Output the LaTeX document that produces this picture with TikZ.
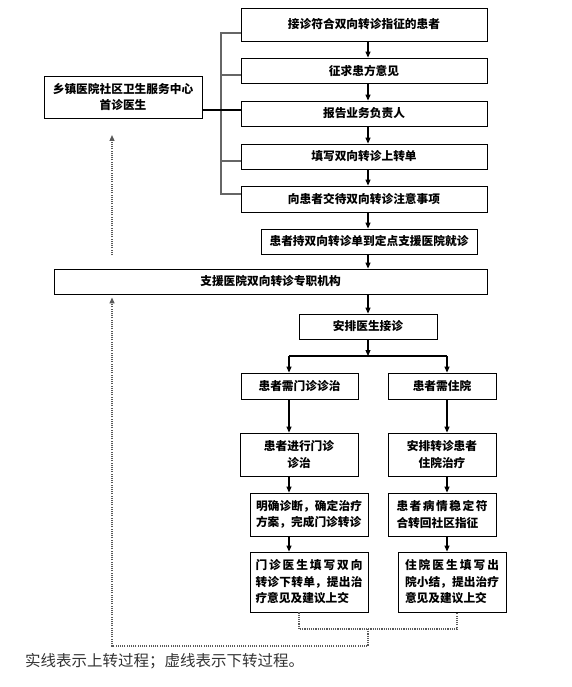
\documentclass[tikz,border=0pt]{standalone}
\usepackage{fontspec}
\newfontfamily\cjk{Noto Sans CJK SC}
\usetikzlibrary{arrows.meta}
\XeTeXlinebreaklocale "zh"
\XeTeXlinebreakskip=0pt plus 4pt

\begin{document}
\begin{tikzpicture}[
    x=1pt, y=-1pt,
    every node/.style={font=\cjk\bfseries\fontsize{11.7}{16.5}\selectfont},
    box/.style={draw, line width=0.8pt, inner sep=0pt},
    arrow/.style={-{Triangle[length=6pt, width=5pt]}, line width=1.1pt},
    link/.style={line width=1.1pt},
    bracket/.style={line width=1.1pt, gray!80!black},
    dotline/.style={line width=1.2pt, black!65, dash pattern=on 1.1pt off 1.1pt},
    dotarrow/.style={dotline, -{Triangle[length=6pt, width=5pt]}}
]
\useasboundingbox (0,0) rectangle (571,687);

% === UPWARD REFERRAL (community side) ===

% first-visit doctor at left
\node[box, minimum width=158pt, minimum height=42pt, align=center] (doctor) at (123,97) {乡镇医院社区卫生服务中心\\首诊医生};

% steps in a column
\node[box, minimum width=246pt, minimum height=33pt] (accept) at (364,24.5) {接诊符合双向转诊指征的患者};
\node[box, minimum width=246pt, minimum height=25pt] (consent) at (364,70.5) {征求患方意见};
\node[box, minimum width=246pt, minimum height=25pt] (report) at (364,113.5) {报告业务负责人};
\node[box, minimum width=246pt, minimum height=25pt] (fillup) at (364,156.5) {填写双向转诊上转单};
\node[box, minimum width=246pt, minimum height=26pt] (notice) at (364,199) {向患者交待双向转诊注意事项};
\node[box, minimum width=216pt, minimum height=25pt] (visit) at (369,241.5) {患者持双向转诊单到定点支援医院就诊};

% === SUPPORTING HOSPITAL ===
\node[box, minimum width=433pt, minimum height=25pt] (office) at (270.5,281.5) {支援医院双向转诊专职机构};
\node[box, minimum width=138pt, minimum height=25pt] (assign) at (368,326.5) {安排医生接诊};

% outpatient branch
\node[box, minimum width=117pt, minimum height=26pt] (outpat) at (299.5,386) {患者需门诊诊治};
\node[box, minimum width=118pt, minimum height=43pt, align=center] (outtreat) at (299,454.5) {患者进行门诊\\诊治};
\node[box, minimum width=118pt, minimum height=43pt, text width=106pt, align=justify] (outdiag) at (309,514.5) {明确诊断，确定治疗\linebreak 方案，完成门诊转诊};
\node[box, minimum width=118pt, minimum height=60pt, text width=107pt, align=justify] (outform) at (309,582) {门诊医生填写双向\linebreak 转诊下转单，提出治\linebreak 疗意见及建议上交};

% inpatient branch
\node[box, minimum width=108pt, minimum height=26pt] (inpat) at (442,386) {患者需住院};
\node[box, minimum width=108pt, minimum height=43pt, align=center] (intreat) at (442,454.5) {安排转诊患者\\住院治疗};
\node[box, minimum width=108pt, minimum height=43pt, text width=91pt, align=justify] (instable) at (442,514.5) {患者病情稳定符\linebreak 合转回社区指征};
\node[box, minimum width=108pt, minimum height=60pt, text width=94pt, align=justify] (inform) at (452,582) {住院医生填写出\linebreak 院小结，提出治疗\linebreak 意见及建议上交};

% === SOLID ARROWS (upward referral) ===
\draw[arrow] (accept.south -| assign) -- (consent.north -| assign);
\draw[arrow] (consent.south -| assign) -- (report.north -| assign);
\draw[arrow] (report.south -| assign) -- (fillup.north -| assign);
\draw[arrow] (fillup.south -| assign) -- (notice.north -| assign);
\draw[arrow] (notice.south -| assign) -- (visit.north -| assign);
\draw[arrow] (visit.south -| assign) -- (office.north -| assign);
\draw[arrow] (office.south -| assign) -- (assign.north);

% bracket joining the doctor to the steps
\coordinate (spine) at (221,0);
\draw[bracket] ([yshift=-8.5pt]accept.west) -- ([yshift=-8.5pt]accept.west -| spine) -- ([yshift=5pt]notice.west -| spine) -- ([yshift=5pt]notice.west);
\draw[bracket] ([yshift=-4.5pt]consent.west) -- ([yshift=-4.5pt]consent.west -| spine);
\draw[bracket] ([yshift=-4.5pt]fillup.west) -- ([yshift=-4.5pt]fillup.west -| spine);
\draw[link] ([yshift=3.5pt]report.west) -- ([yshift=3.5pt]report.west -| doctor.east);

% split into two branches
\coordinate (colL) at (289,356);
\coordinate (colR) at (447,356);
\draw[arrow] (assign.south) -- (assign.south |- colL);
\draw[link] (colL) -- (colR);
\draw[arrow] (colL) -- (outpat.north -| colL);
\draw[arrow] (colR) -- (inpat.north -| colR);
\draw[arrow] (outpat.south -| colL) -- (outtreat.north -| colL);
\draw[arrow] (outtreat.south -| colL) -- (outdiag.north -| colL);
\draw[arrow] (outdiag.south -| colL) -- (outform.north -| colL);
\draw[arrow] (inpat.south -| colR) -- (intreat.north -| colR);
\draw[arrow] (intreat.south -| colR) -- (instable.north -| colR);
\draw[arrow] (instable.south -| colR) -- (inform.north -| colR);

% === DOTTED ARROWS (downward referral) ===
\coordinate (upFrom) at (112,255);
\coordinate (upTo) at (112,135);
\draw[dotarrow] (upFrom) -- (upTo);

\coordinate (backL) at (299,629);
\coordinate (backR) at (457,629);
\coordinate (backM) at (368,629);
\coordinate (backB) at (112,646);
\draw[dotline] (outform.south -| backL) -- (backL) -- (backR) -- (inform.south -| backR);
\draw[dotarrow, shorten >=3pt] (backM) |- (backB) -- (office.south -| backB);

% === LEGEND ===
\node[anchor=west, inner sep=0pt, font=\cjk\fontsize{15.5}{18}\selectfont, text=black!80] (legend) at (25,661) {实线表示上转过程；虚线表示下转过程。};

\end{tikzpicture}
\end{document}
